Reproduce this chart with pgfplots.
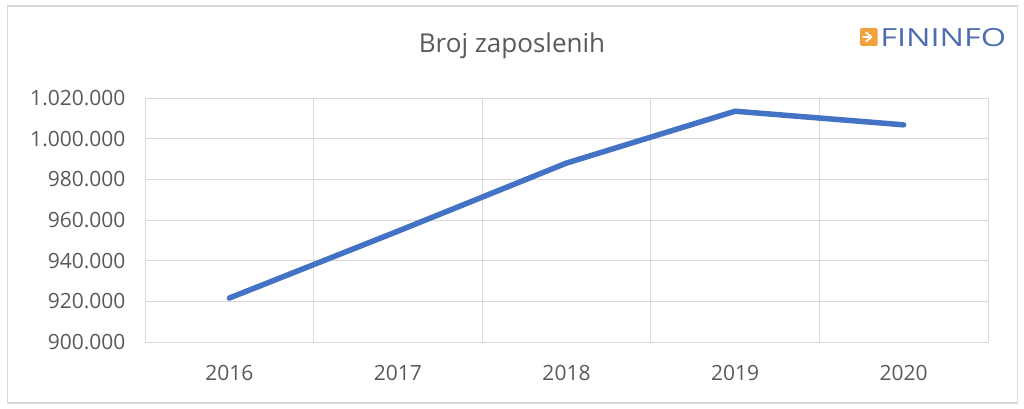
\documentclass[border=0pt]{standalone}
\usepackage{pgfplots}
\pgfplotsset{compat=1.18}
\usepackage{fontspec}
\setmainfont{Open Sans}
\definecolor{line}{HTML}{4472C4}
\definecolor{gridc}{HTML}{D9D9D9}
\definecolor{txt}{HTML}{595959}
\definecolor{logoorange}{HTML}{F2A23A}
\definecolor{logoblue}{HTML}{4E6DB0}

\begin{document}
\begin{tikzpicture}
    \useasboundingbox (0pt,0pt) rectangle (1024pt,-409pt);
    % chart frame
    \draw[gridc, line width=1.2pt] (7.5pt,-6pt) rectangle (1017.5pt,-403pt);

    \begin{axis}[
        at={(145pt,-342pt)}, anchor=south west,
        width=843pt, height=244pt,
        scale only axis,
        xmin=-0.5, xmax=4.5,
        ymin=900000, ymax=1020000,
        xtick={0,1,2,3,4},
        xticklabels={2016,2017,2018,2019,2020},
        minor xtick={-0.5,0.5,1.5,2.5,3.5,4.5},
        ytick={900000,920000,...,1020000},
        scaled y ticks=false,
        xmajorgrids=false,
        xminorgrids=true,
        ymajorgrids=true,
        grid style={gridc, line width=1pt},
        minor grid style={gridc, line width=1pt},
        axis line style={gridc, line width=1pt},
        tick style={draw=none},
        /pgf/number format/.cd, fixed, 1000 sep={.}, assume math mode=true,
        /pgfplots/.cd,
        tick label style={font=\fontsize{21}{25}\selectfont, text=txt},
        yticklabel style={xshift=-16pt},
        xticklabel style={yshift=-20pt},
        clip=false,
    ]
    \addplot[line, line width=5.5pt, line cap=round, line join=round] coordinates {
        (0,921600) (1,954500) (2,988000) (3,1013500) (4,1006800)
    };
    \end{axis}

    % title
    \node[text=txt, font=\fontsize{26}{30}\selectfont] at (512pt,-46pt) {Broj zaposlenih};

    % logo
    \fill[logoorange, rounded corners=1.5pt] (860pt,-28pt) rectangle (877.5pt,-46pt);
    \draw[white, line width=1.8pt, line cap=round, line join=round] (866pt,-32.5pt) -- (871.5pt,-37pt) -- (866pt,-41.5pt);
    \draw[white, line width=1.8pt, line cap=round] (863pt,-37pt) -- (869pt,-37pt);
    \node[anchor=west, inner sep=0pt, text=logoblue, font=\fontsize{25}{28}\selectfont, xscale=1.3] at (880pt,-37.5pt) {FININFO};
\end{tikzpicture}
\end{document}
